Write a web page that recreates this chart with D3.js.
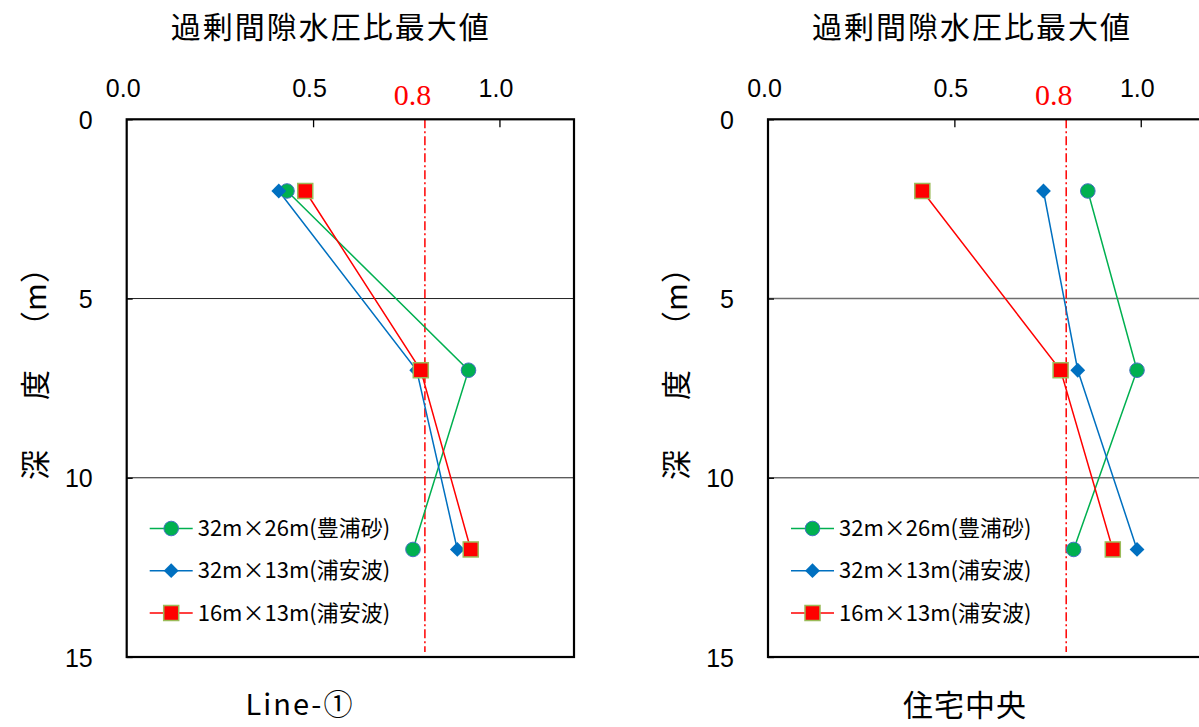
<!DOCTYPE html>
<html>
<head>
<meta charset="utf-8">
<script src="https://cdn.jsdelivr.net/npm/d3@7"></script>
<style>
  html, body { margin: 0; padding: 0; background: #fff; overflow: hidden; }
  svg { display: block; }
</style>
</head>
<body>
<svg id="chart" width="1199" height="727"></svg>
<script>
// ---- data ----
const depths = [2, 7, 12];
const seriesNames = ["32m×26m(豊浦砂)", "32m×13m(浦安波)", "16m×13m(浦安波)"];
const line1Green = [0.430, 0.917, 0.768];
const line1Blue  = [0.408, 0.778, 0.887];
const line1Red   = [0.479, 0.789, 0.923];
const houseGreen = [0.858, 0.990, 0.820];
const houseBlue  = [0.739, 0.831, 0.990];
const houseRed   = [0.414, 0.785, 0.925];
const xTicks = [0.0, 0.5, 1.0];
const yTicks = [0, 5, 10, 15];
const gridDepths = [5, 10];
const threshold = 0.8;
const xDomain = [0, 1.2];
const yDomain = [0, 15];
const topTitle = "過剰間隙水圧比最大値";
const yTitleParts = ["深", "度", "（m）"];
const panelLabels = ["Line-①", "住宅中央"];

// ---- layout / style ----
const svg = d3.select("#chart");
const W = 447.3, H = 537.7, plotTop = 119.3;
const panels = [
  { x0: 126.7, label: panelLabels[0], labelCx: 300, labelSize: 29, labelSpacing: 2, series: [line1Green, line1Blue, line1Red], grid: { c: "#222", w: 1 } },
  { x0: 768,   label: panelLabels[1], labelCx: 965, labelSize: 30, labelSpacing: 1, series: [houseGreen, houseBlue, houseRed], grid: { c: "#6e6e6e", w: 1.6 } }
];
const colors = ["#00B050", "#0070C0", "#FF0000"];
const markerTypes = ["circle", "diamond", "square"];
const sansJP = "'Noto Sans CJK JP', 'Noto Sans', sans-serif";
const sansNum = "'Liberation Sans', Arial, sans-serif";

function drawMarker(g, type, cx, cy) {
  if (type === "circle") {
    g.append("circle").attr("cx", cx).attr("cy", cy).attr("r", 7.3)
      .attr("fill", "#00B050").attr("stroke", "#4472C4").attr("stroke-width", 1);
  } else if (type === "diamond") {
    const s = 7.4;
    g.append("path")
      .attr("d", `M${cx},${cy - s}L${cx + s},${cy}L${cx},${cy + s}L${cx - s},${cy}Z`)
      .attr("fill", "#0070C0");
  } else {
    const s = 15;
    g.append("rect").attr("x", cx - s / 2).attr("y", cy - s / 2).attr("width", s).attr("height", s)
      .attr("fill", "#FF0000").attr("stroke", "#9BBB59").attr("stroke-width", 1.5);
  }
}

panels.forEach(p => {
  const x = d3.scaleLinear().domain(xDomain).range([p.x0, p.x0 + W]);
  const y = d3.scaleLinear().domain(yDomain).range([plotTop, plotTop + H]);
  const g = svg.append("g");

  // gridlines
  g.selectAll(".grid").data(gridDepths).enter().append("line")
    .attr("x1", p.x0).attr("x2", p.x0 + W)
    .attr("y1", d => y(d)).attr("y2", d => y(d))
    .attr("stroke", p.grid.c).attr("stroke-width", p.grid.w);

  // top axis (ticks inward, labels above)
  const topAxis = d3.axisTop(x).tickValues(xTicks).tickSizeInner(-8).tickSizeOuter(0).tickFormat(d3.format(".1f"));
  const ta = g.append("g").attr("transform", `translate(0,${plotTop})`).call(topAxis);
  ta.select(".domain").remove();
  ta.selectAll(".tick line").attr("stroke", "#000").attr("stroke-width", 1.3)
    .attr("display", d => d === 0 ? "none" : null);
  ta.selectAll(".tick text").attr("y", 0).attr("dy", 0)
    .attr("transform", "translate(-4,-22)")
    .style("font-family", sansNum).style("font-size", "25px").attr("fill", "#000");

  // left axis
  const leftAxis = d3.axisLeft(y).tickValues(yTicks).tickSizeInner(-6).tickSizeOuter(0).tickFormat(d3.format("d"));
  const la = g.append("g").attr("transform", `translate(${p.x0},0)`).call(leftAxis);
  la.select(".domain").remove();
  la.selectAll(".tick line").attr("stroke", "#000").attr("stroke-width", 1.3);
  la.selectAll(".tick text").attr("x", -34).attr("dy", "0.36em")
    .style("font-family", sansNum).style("font-size", "25px").attr("fill", "#000")
    .attr("text-anchor", "end");

  // threshold line
  g.append("line")
    .attr("x1", x(threshold)).attr("x2", x(threshold))
    .attr("y1", plotTop).attr("y2", plotTop + H - 5)
    .attr("stroke", "#FF0000").attr("stroke-width", 1.5)
    .attr("stroke-dasharray", "9,3,2,3");
  g.append("text").attr("x", x(threshold) - 12.5).attr("y", plotTop - 14)
    .attr("text-anchor", "middle")
    .style("font-family", "'Liberation Serif', 'Times New Roman', serif").style("font-size", "30px")
    .attr("fill", "#FF0000").text(d3.format(".1f")(threshold));

  // series
  const lineGen = d3.line().x(d => x(d[0])).y(d => y(d[1]));
  p.series.forEach((vals, i) => {
    const pts = vals.map((v, k) => [v, depths[k]]);
    g.append("path").attr("d", lineGen(pts)).attr("fill", "none")
      .attr("stroke", colors[i]).attr("stroke-width", 1.5);
  });
  p.series.forEach((vals, i) => {
    vals.forEach((v, k) => drawMarker(g, markerTypes[i], x(v), y(depths[k])));
  });

  // frame
  g.append("rect").attr("x", p.x0).attr("y", plotTop).attr("width", W).attr("height", H)
    .attr("fill", "none").attr("stroke", "#000").attr("stroke-width", 2.2);

  // legend
  const legRows = [528.5, 570.7, 613];
  seriesNames.forEach((name, i) => {
    const lx = p.x0 + 23, ly = legRows[i];
    g.append("line").attr("x1", lx).attr("x2", lx + 43).attr("y1", ly).attr("y2", ly)
      .attr("stroke", colors[i]).attr("stroke-width", 1.5);
    drawMarker(g, markerTypes[i], lx + 21.5, ly);
    g.append("text").attr("x", lx + 48).attr("y", ly).attr("dy", "0.35em")
      .style("font-family", sansJP).style("font-size", "22px").attr("fill", "#000")
      .text(name);
  });

  // panel title
  g.append("text").attr("x", p.x0 + 204).attr("y", 27).attr("dy", "0.36em")
    .attr("text-anchor", "middle")
    .style("font-family", sansJP).style("font-size", "30px").style("letter-spacing", "2px")
    .attr("fill", "#000").text(topTitle);

  // y-axis title (rotated)
  const yPos = [465, 385, 297];
  yTitleParts.forEach((t, i) => {
    g.append("text")
      .attr("transform", `translate(${p.x0 - 92},${yPos[i]}) rotate(-90)`)
      .attr("text-anchor", "middle").attr("dy", "0.36em")
      .style("font-family", sansJP).style("font-size", "30px").attr("fill", "#000")
      .text(t);
  });

  // bottom label
  g.append("text").attr("x", p.labelCx).attr("y", 705).attr("dy", "0.36em")
    .attr("text-anchor", "middle")
    .style("font-family", sansJP).style("font-size", p.labelSize + "px")
    .style("letter-spacing", p.labelSpacing + "px")
    .attr("fill", "#000").text(p.label);
});
</script>
</body>
</html>
